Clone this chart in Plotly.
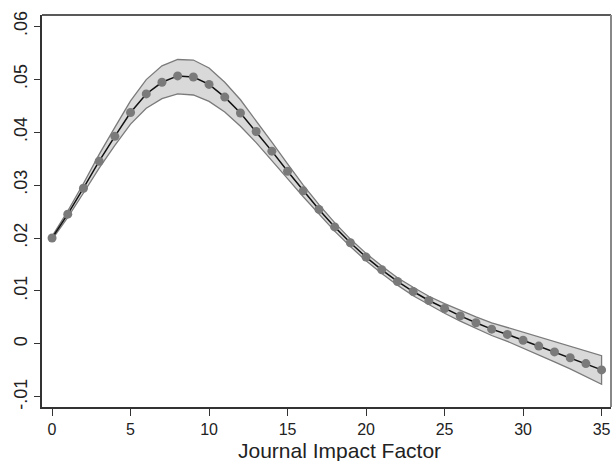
import plotly.graph_objects as go

impact_factor = list(range(0, 36))
estimate = [0.0200, 0.0245, 0.0294, 0.0345, 0.0392, 0.0437, 0.0472, 0.0494, 0.0506, 0.0504,
            0.0490, 0.0466, 0.0436, 0.0401, 0.0364, 0.0326, 0.0289, 0.0254, 0.0221, 0.0191,
            0.0164, 0.0140, 0.0118, 0.0099, 0.0082, 0.0067, 0.0053, 0.0040, 0.0028, 0.0018,
            0.0007, -0.0004, -0.0015, -0.0026, -0.0037, -0.0049]
upper = [0.0203, 0.0251, 0.0303, 0.0358, 0.0409, 0.0459, 0.0499, 0.0525, 0.0537, 0.0536,
         0.0521, 0.0494, 0.0461, 0.0422, 0.0381, 0.0340, 0.0300, 0.0263, 0.0229, 0.0198,
         0.0171, 0.0147, 0.0125, 0.0107, 0.0090, 0.0076, 0.0063, 0.0051, 0.0040, 0.0031,
         0.0022, 0.0013, 0.0004, -0.0005, -0.0013, -0.0022]
lower = [0.0197, 0.0239, 0.0285, 0.0332, 0.0375, 0.0415, 0.0445, 0.0463, 0.0472, 0.0470,
         0.0458, 0.0438, 0.0411, 0.0380, 0.0347, 0.0312, 0.0278, 0.0245, 0.0213, 0.0184,
         0.0157, 0.0133, 0.0111, 0.0091, 0.0074, 0.0058, 0.0043, 0.0029, 0.0016, 0.0005,
         -0.0008, -0.0021, -0.0034, -0.0047, -0.0061, -0.0076]

x_ticks = [0, 5, 10, 15, 20, 25, 30, 35]
y_tick_vals = [-0.01, 0, 0.01, 0.02, 0.03, 0.04, 0.05, 0.06]
y_tick_text = ["-.01", "0", ".01", ".02", ".03", ".04", ".05", ".06"]
x_title = "Journal Impact Factor"

FONT = "Liberation Sans, Arial, sans-serif"

fig = go.Figure()
fig.add_trace(go.Scatter(
    x=impact_factor + impact_factor[::-1],
    y=upper + lower[::-1],
    fill="toself", fillcolor="#d9d9d9",
    line=dict(color="#7a7a7a", width=1.3),
    mode="lines", hoverinfo="skip", showlegend=False))
fig.add_trace(go.Scatter(
    x=impact_factor, y=estimate, mode="lines+markers",
    line=dict(color="#111111", width=1.5),
    marker=dict(color="#7a7a7a", size=9, line=dict(width=0)),
    showlegend=False))

fig.update_layout(
    width=616, height=461,
    margin=dict(l=42, r=5, t=15, b=54),
    paper_bgcolor="white", plot_bgcolor="white",
    font=dict(family=FONT, color="#222222"),
    xaxis=dict(range=[-0.64, 35.6], tickvals=x_ticks, ticks="outside", ticklen=7,
               tickcolor="#333333", tickwidth=1, showline=True, linecolor="#333333",
               linewidth=1.5, showgrid=False, zeroline=False,
               tickfont=dict(size=16, family=FONT, color="#222222")),
    yaxis=dict(range=[-0.0119, 0.0621], tickvals=y_tick_vals, ticktext=y_tick_text,
               ticks="outside", ticklen=6, tickcolor="#333333", tickangle=-90,
               showline=True, linecolor="#333333", linewidth=1.5, showgrid=False,
               zeroline=False, tickfont=dict(size=18, family=FONT, color="#222222")),
    shapes=[
        dict(type="line", xref="paper", yref="paper", x0=0, x1=1, y0=1, y1=1,
             line=dict(color="#222222", width=1.5)),
        dict(type="line", xref="paper", yref="paper", x0=1, x1=1, y0=0, y1=1,
             line=dict(color="#888888", width=2)),
    ],
    annotations=[dict(text=x_title, xref="paper", yref="paper", x=0.522, y=-0.1097,
                      xanchor="center", yanchor="middle", showarrow=False,
                      font=dict(size=21, family=FONT, color="#222222"))],
)

fig.write_html("out.html", config={"displayModeBar": False},
               post_script="document.body.style.margin='0';document.body.style.overflow='hidden';")
